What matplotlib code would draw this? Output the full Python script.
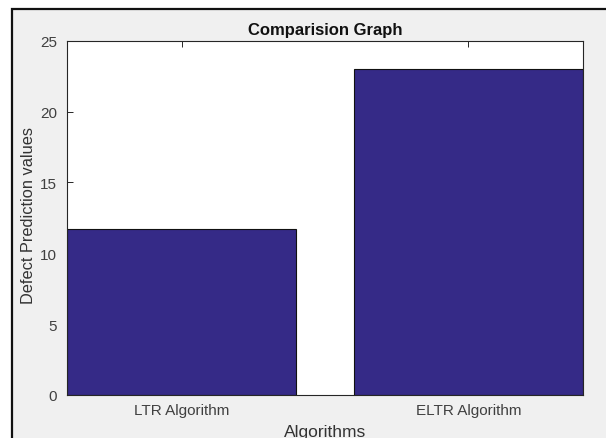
import matplotlib
matplotlib.use("Agg")
import matplotlib.pyplot as plt
from matplotlib.patches import Rectangle

categories = ["LTR Algorithm", "ELTR Algorithm"]
values = [11.7, 23.0]
yticks = [0, 5, 10, 15, 20, 25]

plt.rcParams['font.family'] = ['Liberation Sans', 'DejaVu Sans']

W, H = 606, 439
fig = plt.figure(figsize=(W / 100, H / 100), dpi=100, facecolor="white")

# screenshot frame / grey figure background
frame = Rectangle((11.5 / W, -0.05), 1.1, 1 - 10 / H + 0.05,
                  transform=fig.transFigure, facecolor="#f0f0f0",
                  edgecolor="#111111", linewidth=1.6, zorder=-10)
fig.patches.append(frame)

ax = fig.add_axes([67 / W, 1 - 396 / H, (583 - 67) / W, (396 - 41.7) / H])
ax.set_zorder(1)
ax.set_facecolor("white")

x = list(range(1, len(categories) + 1))
ax.bar(x, values, width=0.8, color="#352a87", edgecolor="#111111", linewidth=0.8, zorder=2)

ax.set_xlim(0.6, 2.4)
ax.set_ylim(0, 25)
ax.set_xticks(x)
ax.set_xticklabels(categories)
ax.set_yticks(yticks)

for s in ax.spines.values():
    s.set_color("#262626")
    s.set_linewidth(0.8)
    s.set_zorder(3)

ax.tick_params(axis="both", direction="in", length=4, width=0.7, color="#262626",
               top=True, right=True, labelsize=11, labelcolor="#404040")
ax.tick_params(axis="y", pad=7)
ax.tick_params(axis="x", pad=6)

ax.set_title("Comparision Graph", fontsize=12, fontweight="bold", color="#111111", pad=5)
ax.set_xlabel("Algorithms", fontsize=12.5, color="#333333")
ax.set_ylabel("Defect Prediction values", fontsize=11.8, color="#333333")
ax.xaxis.set_label_coords(0.5, -0.082)
ax.yaxis.set_label_coords(-0.06, 0.51)

fig.savefig("out.png", dpi=100, facecolor=fig.get_facecolor())
